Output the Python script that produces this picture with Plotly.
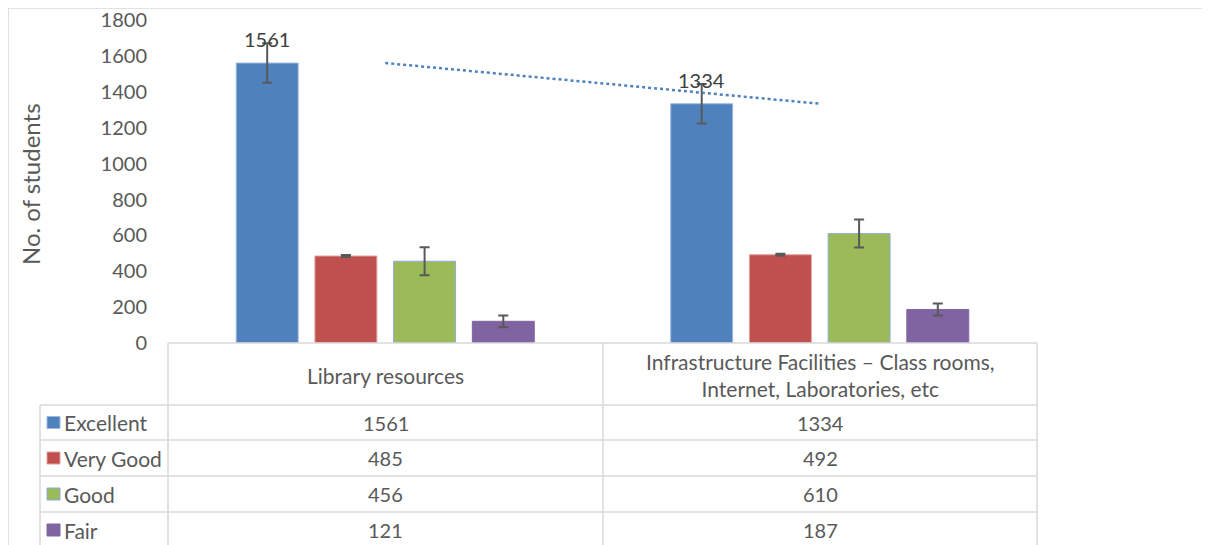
import numpy as np
import plotly.graph_objects as go

# data
categories = ["Library resources",
              "Infrastructure Facilities – Class rooms,<br>Internet, Laboratories, etc"]
ratings = ["Excellent", "Very Good", "Good", "Fair"]
excellent = [1561, 1334]
very_good = [485, 492]
good = [456, 610]
fair = [121, 187]
errors = [110, 5, 78, 33]  # +/- per rating
y_ticks = [0, 200, 400, 600, 800, 1000, 1200, 1400, 1600, 1800]

series = [excellent, very_good, good, fair]
colors = ["#4F81BD", "#C0504D", "#9BBB59", "#8064A2"]
edges = ["#9DB9E0", "#E0A09E", "#8FAADC", "#8064A2"]

# page has an 8px body margin, so the figure is offset by 8px
OFF = 8
W, H = 1210 - 2 * OFF, 545 - OFF
FONT = "Lato"
TXT = "#595959"


def px(x):
    return (x - OFF) / W


def py(y):
    return 1 - (y - OFF) / H


fig = go.Figure()

for name, vals, col, edge, err in zip(ratings, series, colors, edges, errors):
    fig.add_trace(go.Bar(
        x=categories, y=vals, name=name,
        marker=dict(color=col, line=dict(color=edge, width=1)),
        error_y=dict(type="constant", value=err, color="#595959",
                     thickness=2, width=5),
    ))

# linear trendline on Excellent
idx = np.arange(len(excellent))
slope, icpt = np.polyfit(idx, excellent, 1)
fig.add_trace(go.Scatter(
    x=categories, y=slope * idx + icpt, mode="lines",
    line=dict(color="#4F81BD", width=2.5, dash="dot"),
    showlegend=False, hoverinfo="skip",
))

# data labels on Excellent bars
for cat, v in zip(categories, excellent):
    fig.add_annotation(x=cat, y=v, xref="x", yref="y", text=str(v),
                       showarrow=False, xshift=-118, yshift=24,
                       xanchor="center", yanchor="middle",
                       font=dict(family=FONT, size=20, color="#404040"))

# y-axis title
fig.add_annotation(x=px(30), y=py(184), xref="paper", yref="paper",
                   text="No. of students", textangle=-90, showarrow=False,
                   xanchor="center", yanchor="middle",
                   font=dict(family=FONT, size=24, color=TXT))

shapes = []
line = dict(color="#D9D9D9", width=1.5)
# outer border
shapes.append(dict(type="rect", xref="paper", yref="paper",
                   x0=px(8), x1=px(1204), y0=py(560), y1=py(8),
                   line=dict(color="#D9D9D9", width=1.5)))

# data table
col_x = [168, 603, 1037]
row_y = [405, 440, 476, 512, 548]
shapes.append(dict(type="line", xref="paper", yref="paper",
                   x0=px(168), x1=px(1037), y0=py(343), y1=py(343), line=line))
for cx in col_x:
    shapes.append(dict(type="line", xref="paper", yref="paper",
                       x0=px(cx), x1=px(cx), y0=py(343), y1=py(560), line=line))
shapes.append(dict(type="line", xref="paper", yref="paper",
                   x0=px(40), x1=px(40), y0=py(405), y1=py(560), line=line))
for ry in row_y[:-1]:
    shapes.append(dict(type="line", xref="paper", yref="paper",
                       x0=px(40), x1=px(1037), y0=py(ry), y1=py(ry), line=line))

# header texts
for i, cat in enumerate(categories):
    fig.add_annotation(x=px((col_x[i] + col_x[i + 1]) / 2), y=py(375),
                       xref="paper", yref="paper", text=cat, showarrow=False,
                       xanchor="center", yanchor="middle",
                       font=dict(family=FONT, size=21, color=TXT))

# table rows
for r, (name, vals, col, edge) in enumerate(zip(ratings, series, colors, edges)):
    yc = (row_y[r] + row_y[r + 1]) / 2 if r < 3 else 530
    shapes.append(dict(type="rect", xref="paper", yref="paper",
                       x0=px(47), x1=px(60), y0=py(yc - 6), y1=py(yc + 6),
                       fillcolor=col, line=dict(color=edge, width=1)))
    fig.add_annotation(x=px(62), y=py(yc), xref="paper", yref="paper",
                       text=name, showarrow=False, xanchor="left",
                       yanchor="middle",
                       font=dict(family=FONT, size=21, color=TXT))
    for i, v in enumerate(vals):
        fig.add_annotation(x=px((col_x[i] + col_x[i + 1]) / 2), y=py(yc),
                           xref="paper", yref="paper", text=str(v),
                           showarrow=False, xanchor="center",
                           yanchor="middle",
                           font=dict(family=FONT, size=20, color=TXT))

fig.update_layout(
    width=W, height=H,
    margin=dict(l=0, r=0, t=0, b=0, autoexpand=False),
    paper_bgcolor="white", plot_bgcolor="white",
    barmode="group", bargap=0.2755, bargroupgap=0.213,
    showlegend=False,
    shapes=shapes,
    font=dict(family=FONT, size=20, color=TXT),
    xaxis=dict(domain=[px(168), px(1037)], showticklabels=False,
               automargin=False,
               showgrid=False, zeroline=False, showline=False),
    yaxis=dict(domain=[py(343), py(20)], range=[0, 1801],
               automargin=False, ticklabeloverflow="allow",
               tickvals=y_ticks, showgrid=False, zeroline=False,
               showline=False, ticks="", ticklabelstandoff=20,
               tickfont=dict(family=FONT, size=20, color=TXT)),
)

fig.write_html("out.html")
